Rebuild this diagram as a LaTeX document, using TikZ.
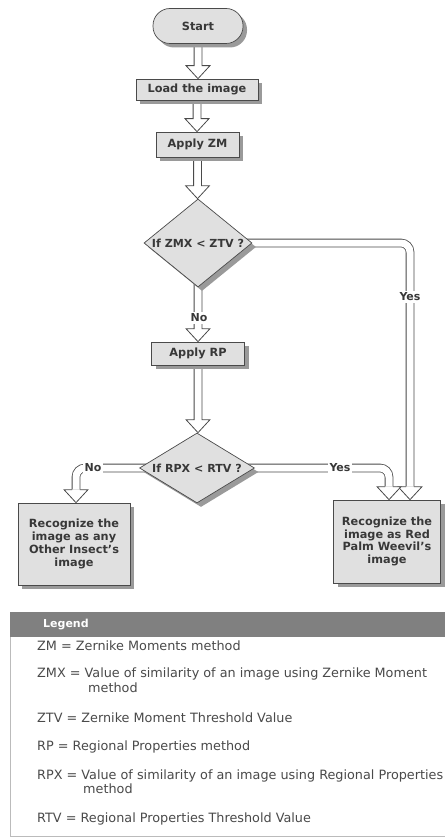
\documentclass[tikz,border=0pt]{standalone}
\usepackage{fontspec}
\setmainfont{DejaVu Sans}
\usetikzlibrary{shapes.geometric,shadows,calc}
\pgfdeclarelayer{background}
\pgfsetlayers{background,main}
\definecolor{boxfill}{HTML}{E0E0E0}
\definecolor{edge}{HTML}{4A4A4A}
\definecolor{txt}{HTML}{383838}
\definecolor{shade}{HTML}{9A9A9A}
\definecolor{leghead}{HTML}{808080}
\definecolor{legedge}{HTML}{BBBBBB}
\definecolor{legtxt}{HTML}{4A4A4A}
\tikzset{
  base/.style={draw=edge, fill=boxfill, line width=0.7pt, text=txt,
    font=\fontsize{11.3}{12.8}\selectfont\bfseries,
    drop shadow={shadow xshift=4pt, shadow yshift=-4pt, fill=shade, opacity=1}},
  procbox/.style={base, rectangle, inner sep=0pt, align=center},
  startbox/.style={base, rectangle, rounded corners=17pt, inner sep=0pt},
  decbox/.style={base, diamond, inner sep=0pt},
  dtext/.style={text=txt, font=\fontsize{11.1}{12.8}\selectfont\bfseries, inner sep=0pt},
  conn/.style={draw=edge, line width=0.8pt},
  dbl/.style={draw=edge, line width=0.8pt, double=white, double distance=7pt, rounded corners=9pt},
  head/.style={draw=edge, line width=0.8pt, fill=white, line join=miter},
  lab/.style={fill=white, text=txt, font=\fontsize{11}{12.8}\selectfont\bfseries, inner sep=2pt},
  legtext/.style={anchor=west, text=legtxt, font=\fontsize{12.8}{14}\selectfont, inner sep=0pt},
}
\newcommand{\hollowarrow}[2]{%
  \draw[conn] let \p1=(#1), \p2=(#2) in
    (\x1-3.9pt,\y1+5pt) -- (\x1-3.9pt,\y2+13pt) -- (\x1-12pt,\y2+13pt) -- (\x1,\y2)
    -- (\x1+12pt,\y2+13pt) -- (\x1+3.9pt,\y2+13pt) -- (\x1+3.9pt,\y1+5pt);}
\newcommand{\headat}[1]{%
  \draw[head] let \p1=(#1) in
    (\x1-3.9pt,\y1+13pt) -- (\x1-12pt,\y1+13pt) -- (\x1,\y1)
    -- (\x1+12pt,\y1+13pt) -- (\x1+3.9pt,\y1+13pt);}
\begin{document}
\begin{tikzpicture}[x=1pt,y=-1pt]
\useasboundingbox (0,0) rectangle (444,837);

% nodes
\node[startbox, minimum width=90pt, minimum height=35pt] (start) at (198,26) {Start};
\node[procbox, minimum width=122pt, minimum height=21pt] (load) at (197,89.5) {Load the image};
\node[procbox, minimum width=83pt, minimum height=25pt] (zm) at (197.5,144.5) {Apply ZM};
\node[decbox, minimum width=108pt, minimum height=88pt] (d1) at (198,243) {};
\node[dtext] (d1t) at (d1) {If ZMX < ZTV ?};
\node[procbox, minimum width=93pt, minimum height=23pt] (rp) at (198,353.5) {Apply RP};
\node[decbox, minimum width=115pt, minimum height=70pt] (d2) at (197,468) {};
\node[dtext] (d2t) at (d2) {If RPX < RTV ?};
\node[procbox, minimum width=112pt, minimum height=82pt] (other) at (74,544) {Recognize the\\image as any\\Other Insect's\\image};
\node[procbox, minimum width=107pt, minimum height=83pt] (rpw) at (387,541.5) {Recognize the\\image as Red\\Palm Weevil's\\image};

% route coordinates
\coordinate (c1) at (410,243);
\coordinate (t1) at (c1 |- rpw.north);
\coordinate (c2) at (389,468);
\coordinate (t2) at (c2 |- rpw.north);
\coordinate (c3) at (76,468);
\coordinate (t3) at (c3 |- other.north);

\begin{pgfonlayer}{background}
\hollowarrow{start.south}{load.north}
\hollowarrow{load.south}{zm.north}
\hollowarrow{zm.south}{d1.north}
\hollowarrow{d1.south}{rp.north}
\hollowarrow{rp.south}{d2.north}
\draw[dbl] ([xshift=-8pt]d1.east) -- (c1) -- ([yshift=13pt]t1);
\draw[dbl] ([xshift=-8pt]d2.east) -- (c2) -- ([yshift=13pt]t2);
\draw[dbl] ([xshift=8pt]d2.west) -- (c3) -- ([yshift=13pt]t3);
\end{pgfonlayer}
\headat{t1}
\headat{t2}
\headat{t3}

\node[lab] (no1) at (199,318) {No};
\node[lab] (yes1) at (410,297) {Yes};
\node[lab] (yes2) at (340,468) {Yes};
\node[lab] (no2) at (93,468) {No};

% legend
\draw[legedge, fill=white] (10,612) rectangle (446,836.5);
\fill[leghead] (10,612) rectangle (446,637);
\node[anchor=west, text=white, font=\fontsize{11}{13}\selectfont\bfseries, inner sep=0pt] (legtitle) at (43,625) {Legend};
\node[legtext] (l1) at (37,646) {ZM = Zernike Moments method};
\node[legtext] (l2) at (37,674) {ZMX = Value of similarity of an image using Zernike Moment};
\node[legtext] (l2b) at (88,688) {method};
\node[legtext] (l3) at (37,718) {ZTV = Zernike Moment Threshold Value};
\node[legtext] (l4) at (37,747) {RP = Regional Properties method};
\node[legtext] (l5) at (37,776) {RPX = Value of similarity of an image using Regional Properties};
\node[legtext] (l5b) at (83,789) {method};
\node[legtext] (l6) at (37,819) {RTV = Regional Properties Threshold Value};
\end{tikzpicture}
\end{document}
